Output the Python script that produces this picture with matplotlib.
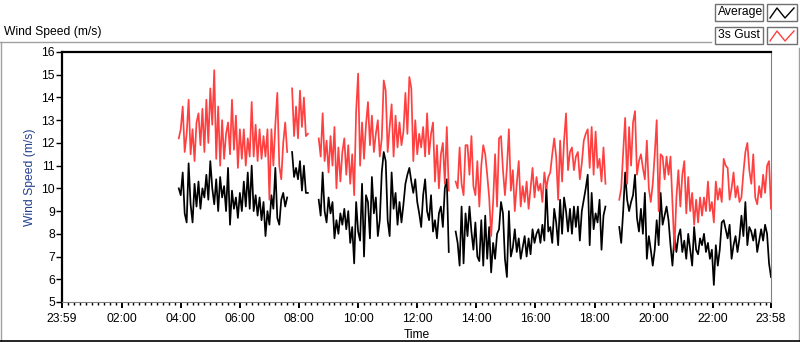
import numpy as np
import matplotlib.pyplot as plt
from matplotlib.patches import Rectangle
from matplotlib.lines import Line2D

plt.rcParams['font.family'] = ['Liberation Sans', 'DejaVu Sans']

# minutes after midnight where each block of logged data starts, 4 min apart
step = 4
start_a, start_b, start_c, start_d, start_e = 236, 466, 520, 798, 1130

gust_a = [12.2, 12.6, 13.6, 11.6, 12.4, 13.9, 11.5, 12.6, 11.2, 12.9,
          13.3, 11.9, 13.5, 11.6, 13.9, 12.0, 14.4, 12.8, 15.2, 11.3,
          13.6, 11.0, 13.0, 11.3, 12.4, 12.9, 11.5, 13.9, 11.7, 13.2,
          10.9, 12.6, 11.3, 12.6, 11.0, 12.2, 11.4, 13.8, 11.4, 12.8,
          11.2, 12.6, 11.3, 12.3, 11.4, 12.6, 9.5, 12.6, 11.0, 12.8,
          14.2, 11.0, 10.4, 12.0, 12.9, 11.6]
avg_a = [10.0, 9.7, 10.7, 8.9, 8.5, 11.1, 9.3, 8.5, 10.2, 9.2,
         10.3, 9.1, 10.0, 9.6, 10.6, 9.5, 11.2, 10.0, 9.3, 10.4,
         9.0, 10.5, 9.6, 10.1, 9.0, 10.9, 8.4, 9.9, 9.1, 9.6,
         8.7, 9.8, 9.0, 10.3, 9.2, 10.7, 9.1, 11.0, 9.0, 9.7,
         8.8, 9.6, 8.6, 9.4, 7.9, 9.0, 8.4, 9.7, 9.1, 10.9,
         8.7, 8.4, 9.5, 9.8, 9.2, 9.6]

gust_b = [14.4, 12.3, 13.6, 12.2, 14.3, 12.7, 14.0, 12.3, 12.4]
avg_b = [11.6, 10.5, 10.9, 10.4, 11.2, 9.9, 11.0, 9.8, 9.8]

gust_c = [12.2, 11.4, 13.3, 11.2, 12.1, 10.7, 12.3, 11.0, 12.7, 10.0,
          11.8, 10.3, 11.6, 12.2, 10.6, 11.9, 10.2, 11.5, 9.7, 13.4,
          15.05, 11.0, 12.9, 11.3, 12.8, 13.8, 11.9, 13.2, 11.6, 12.4,
          13.0, 11.4, 12.2, 14.75, 14.3, 11.6, 12.7, 13.7, 11.4, 13.2,
          11.8, 12.9, 11.9, 12.5, 14.2, 12.4, 14.9, 14.4, 11.2, 13.0,
          11.5, 12.4, 11.8, 12.7, 11.4, 13.3, 11.5, 12.4, 12.9, 10.3,
          11.9, 10.0, 11.5, 12.0, 10.2, 12.7, 9.9]
avg_c = [9.5, 8.8, 10.7, 9.0, 8.5, 9.6, 8.9, 9.4, 7.8, 8.6,
         8.0, 8.9, 8.4, 9.1, 8.2, 9.0, 7.6, 8.3, 6.7, 9.4,
         8.1, 7.7, 10.2, 7.0, 9.7, 9.4, 7.8, 10.5, 8.9, 9.6,
         7.9, 8.6, 10.7, 11.6, 11.2, 8.6, 7.9, 10.7, 9.1, 9.8,
         8.4, 9.4, 8.5, 9.3, 10.2, 10.6, 10.9, 10.3, 9.8, 10.4,
         9.4, 8.9, 8.3, 9.7, 10.4, 9.0, 8.6, 9.7, 8.1, 8.6,
         7.8, 8.9, 9.2, 8.3, 10.0, 10.4, 7.2]

gust_d = [10.3, 10.0, 11.8, 10.2, 9.7, 11.9, 11.9, 10.6, 12.3, 10.1,
          9.7, 11.2, 9.2, 11.0, 11.9, 11.5, 10.6, 9.6, 7.9, 9.4,
          11.5, 9.2, 12.2, 12.3, 10.8, 9.7, 10.9, 12.6, 9.9, 10.8,
          9.0, 10.2, 11.2, 9.2, 10.1, 9.4, 10.3, 9.1, 10.0, 10.9,
          9.6, 10.5, 9.9, 10.2, 9.4, 10.7, 10.0, 10.5, 10.7, 11.5,
          12.2, 11.4, 9.5, 12.1, 10.3, 12.1, 13.3, 10.8, 11.6, 11.8,
          10.8, 11.4, 11.6, 10.4, 11.1, 12.1, 12.4, 12.6, 10.9, 12.7,
          10.6, 12.5, 10.9, 11.3, 10.3, 11.8, 10.2]
avg_d = [8.1, 7.6, 6.6, 9.2, 6.7, 8.9, 7.9, 9.2, 8.1, 7.3,
         8.5, 7.0, 6.8, 8.6, 6.6, 8.8, 6.9, 8.3, 6.3, 7.6,
         6.9, 8.0, 8.2, 9.4, 8.9, 6.9, 6.1, 9.0, 7.0, 7.4,
         8.2, 7.2, 7.8, 6.9, 7.4, 7.9, 7.0, 7.8, 7.1, 8.2,
         7.6, 8.0, 8.2, 7.6, 8.4, 7.7, 10.1, 8.1, 8.3, 7.6,
         9.1, 8.5, 7.5, 9.5, 8.0, 9.6, 9.0, 8.1, 9.1, 8.0,
         9.2, 8.3, 9.2, 7.7, 9.0, 9.5, 10.0, 10.6, 7.5, 9.8,
         8.2, 8.9, 8.5, 9.5, 7.3, 8.8, 9.2]

gust_e = [9.5, 10.0, 11.6, 13.1, 10.2, 12.7, 11.0, 12.9, 13.4, 10.6,
          11.2, 11.5, 10.9, 10.4, 12.1, 10.0, 9.4, 10.2, 11.5, 13.0,
          9.0, 11.5, 11.4, 10.4, 11.4, 10.6, 11.4, 9.3, 7.3, 9.6,
          10.8, 9.2, 10.6, 11.2, 8.9, 10.5, 9.0, 9.8, 8.4, 9.5,
          8.5, 9.6, 8.8, 9.6, 9.0, 10.3, 9.0, 9.4, 8.5, 10.3,
          9.5, 10.0, 9.4, 11.3, 11.0, 10.9, 9.5, 10.0, 10.7, 9.6,
          10.1, 9.4, 9.6, 10.7, 11.6, 12.0, 10.8, 10.2, 11.5, 9.6,
          9.3, 10.1, 9.6, 10.6, 9.8, 11.0, 11.2, 9.1]
avg_e = [8.3, 7.6, 9.0, 10.7, 9.5, 9.0, 9.4, 9.7, 10.6, 8.7,
         8.1, 9.1, 8.0, 9.8, 6.9, 7.9, 7.3, 6.6, 7.3, 8.6,
         7.5, 9.8, 8.4, 8.8, 9.2, 8.6, 7.5, 6.6, 7.9, 7.2,
         7.9, 8.2, 7.2, 7.7, 6.9, 8.0, 7.3, 6.6, 8.3, 7.3,
         7.1, 7.8, 7.5, 8.0, 7.2, 7.6, 6.9, 7.3, 5.75, 7.5,
         6.6, 7.3, 8.5, 8.6, 8.2, 7.8, 8.4, 6.9, 7.5, 7.9,
         7.2, 7.8, 8.8, 7.9, 9.4, 7.5, 8.3, 8.1, 7.7, 8.2,
         7.2, 7.7, 8.2, 7.7, 8.4, 8.0, 6.7, 6.1]

tick_minutes = [-1, 120, 240, 360, 480, 600, 720, 840, 960, 1080, 1200, 1320, 1438]
tick_labels = ["23:59", "02:00", "04:00", "06:00", "08:00", "10:00", "12:00",
               "14:00", "16:00", "18:00", "20:00", "22:00", "23:58"]

starts = [start_a, start_b, start_c, start_d, start_e]


def join_blocks(blocks):
    # gaps in the log are left as breaks in the line
    t, v = [], []
    for s, vals in zip(starts, blocks):
        t += [s + step * i for i in range(len(vals))] + [np.nan]
        v += list(vals) + [np.nan]
    return np.array(t, dtype=float), np.array(v, dtype=float)


t_avg, v_avg = join_blocks([avg_a, avg_b, avg_c, avg_d, avg_e])
t_gust, v_gust = join_blocks([gust_a, gust_b, gust_c, gust_d, gust_e])

W, H = 800, 342
fig = plt.figure(figsize=(W / 100, H / 100), dpi=100)


def fx(px):
    return px / W


def fy(py):
    return 1 - py / H


ax = fig.add_axes([fx(62), fy(302), fx(771) - fx(62), fy(52) - fy(302)])
ax.plot(t_avg, v_avg, color="black", lw=1.25)
ax.plot(t_gust, v_gust, color="#ff4040", lw=1.25)

ax.set_xlim(-1, 1438)
ax.set_ylim(5, 16)
ax.set_yticks(range(5, 17))
ax.set_xticks(tick_minutes)
ax.set_xticklabels(tick_labels)
ax.set_xticks(np.arange(12, 1438, 12), minor=True)
ax.tick_params(axis="both", labelsize=8.7, color="black")
ax.tick_params(axis="y", length=4, width=1, pad=1)
ax.tick_params(axis="x", which="major", length=4, width=1.4, pad=4)
ax.tick_params(axis="x", which="minor", length=2.5, width=1)
ax.set_ylabel("Wind Speed (m/s)", fontsize=8.7, color="#24408e", labelpad=4)
ax.set_xlabel("Time", fontsize=8.7, labelpad=3)

ax.spines["top"].set_linewidth(1.6)
ax.spines["left"].set_linewidth(1.6)
ax.spines["right"].set_color("#808080")
ax.spines["bottom"].set_color("#808080")

# panel frame around the chart
fig.add_artist(Line2D([fx(0), fx(711)], [fy(42), fy(42)], color="#a0a0a0", lw=1))
fig.add_artist(Line2D([fx(0.5), fx(0.5)], [fy(42), fy(342)], color="#a0a0a0", lw=1))
fig.add_artist(Line2D([fx(799), fx(799)], [fy(48), fy(342)], color="#a0a0a0", lw=1))
fig.add_artist(Line2D([fx(0), fx(800)], [fy(341), fy(341)], color="black", lw=1.2))
fig.text(fx(4), fy(32), "Wind Speed (m/s)", fontsize=8.7, va="center", ha="left")

# legend boxes
for row, (name, col) in enumerate([("Average", "black"), ("3s Gust", "#ff4040")]):
    y0 = 4 + row * 23
    fig.add_artist(Rectangle((fx(715), fy(y0 + 17)), fx(48), fy(0) - fy(17),
                             facecolor="white", edgecolor="#707070", lw=1))
    fig.text(fx(718), fy(y0 + 8.5), name, fontsize=8.7, va="center", ha="left")
    fig.add_artist(Rectangle((fx(767), fy(y0 + 17)), fx(30), fy(0) - fy(17),
                             facecolor="white", edgecolor="#707070", lw=1))
    fig.add_artist(Line2D([fx(770), fx(777), fx(785), fx(794)],
                          [fy(y0 + 14), fy(y0 + 4), fy(y0 + 14), fy(y0 + 4)],
                          color=col, lw=1))

fig.savefig("out.png", dpi=100)
